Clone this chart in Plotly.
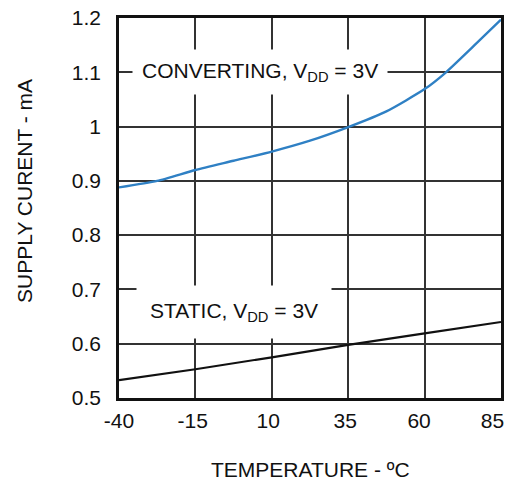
import plotly.graph_objects as go

temps_conv = [-40, -27.5, -15, -2.5, 10, 22.5, 35, 47.5, 60, 67, 76, 85]
conv_ma = [0.888, 0.900, 0.920, 0.937, 0.954, 0.974, 0.999, 1.028, 1.069, 1.100, 1.148, 1.197]
temps_static = [-40, -15, 10, 35, 60, 85]
static_ma = [0.533, 0.553, 0.575, 0.598, 0.619, 0.640]
x_ticks = [-40, -15, 10, 35, 60, 85]
x_labels = ["-40", "-15", "10", "35", "60", "85"]
y_ticks = [0.5, 0.6, 0.7, 0.8, 0.9, 1.0, 1.1, 1.2]
y_labels = ["0.5", "0.6", "0.7", "0.8", "0.9", "1", "1.1", "1.2"]
# where the x tick labels sit in the reference (they drift slightly left of the grid lines)
x_label_pos = [-40, -15.9, 8.8, 34.0, 58.2, 82.2]

FONT = "Liberation Sans, Arial, sans-serif"
FS = 21

fig = go.Figure()
fig.add_trace(go.Scatter(x=temps_conv, y=conv_ma, mode="lines",
                         line=dict(color="#2f80c4", width=2.4, shape="spline", smoothing=0.6),
                         showlegend=False, hoverinfo="skip"))
fig.add_trace(go.Scatter(x=temps_static, y=static_ma, mode="lines",
                         line=dict(color="#111111", width=2.2),
                         showlegend=False, hoverinfo="skip"))
fig.add_trace(go.Scatter(x=[None], y=[None], xaxis="x2", mode="lines",
                         showlegend=False, hoverinfo="skip"))

fig.add_annotation(x=6, y=1.1, xref="x", yref="y",
                   text="CONVERTING, V<sub>DD</sub> = 3V", showarrow=False,
                   font=dict(family=FONT, size=FS, color="#111"),
                   bgcolor="white", borderpad=9)
fig.add_annotation(x=-2.5, y=0.6576, xref="x", yref="y",
                   text="STATIC, V<sub>DD</sub> = 3V", showarrow=False,
                   font=dict(family=FONT, size=FS, color="#111"),
                   bgcolor="white", borderpad=13)
fig.add_annotation(x=-0.246, y=0.545, xref="paper", yref="paper",
                   text="SUPPLY CURENT - mA", showarrow=False, textangle=-90,
                   font=dict(family=FONT, size=FS, color="#111"),
                   xanchor="center", yanchor="middle")
fig.add_annotation(x=0.5, y=-0.189, xref="paper", yref="paper",
                   text="TEMPERATURE - ºC", showarrow=False,
                   font=dict(family=FONT, size=FS, color="#111"),
                   xanchor="center", yanchor="middle")

fig.update_layout(
    width=513, height=484,
    margin=dict(l=119, r=12, t=18, b=86),
    paper_bgcolor="white", plot_bgcolor="white",
    font=dict(family=FONT, size=FS, color="#111"),
    xaxis=dict(range=[-40, 85], tickvals=x_ticks, showticklabels=False, showgrid=True,
               gridcolor="#333", gridwidth=1.5, zeroline=False,
               showline=True, mirror=True, linecolor="#111", linewidth=2.5,
               ticks="", automargin=False),
    xaxis2=dict(range=[-40, 85], overlaying="x", anchor="y", side="bottom",
                tickvals=x_label_pos, ticktext=x_labels, showgrid=False, zeroline=False,
                showline=False, ticks="", tickfont=dict(size=FS), ticklabelstandoff=8,
                automargin=False),
    yaxis=dict(range=[0.5, 1.2], tickvals=y_ticks, ticktext=y_labels, showgrid=True,
               gridcolor="#333", gridwidth=1.5, zeroline=False,
               showline=True, mirror=True, linecolor="#111", linewidth=2.5,
               ticks="", tickfont=dict(size=FS), ticklabelstandoff=11, automargin=False),
)

fig.write_html("out.html", config={"displayModeBar": False},
               post_script="document.body.style.margin='0';document.body.style.overflow='hidden';")
